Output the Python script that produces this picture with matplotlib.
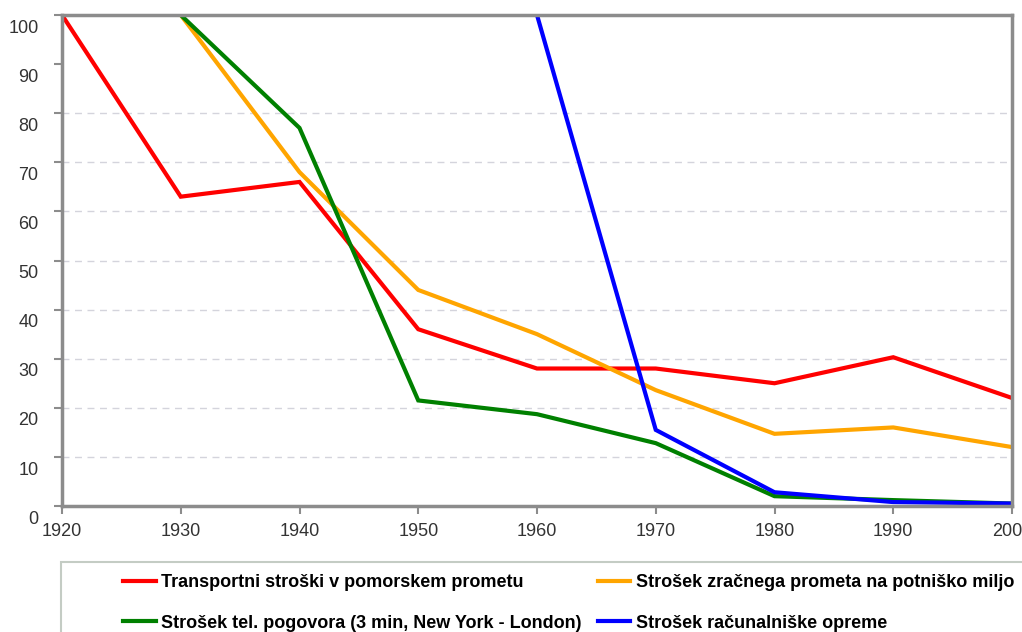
import matplotlib.pyplot as plt
from matplotlib.patches import Rectangle
from matplotlib.transforms import ScaledTranslation

plt.rcParams['font.family'] = ['Liberation Sans', 'DejaVu Sans']

years = [1920, 1930, 1940, 1950, 1960, 1970, 1980, 1990, 2000]
pomorski = [100, 63, 66, 36, 28, 28, 25, 30.3, 22]
letalski_years = [1930, 1940, 1950, 1960, 1970, 1980, 1990, 2000]
letalski = [100, 68, 44, 35, 23.6, 14.7, 16, 12]
telefon_years = [1930, 1940, 1950, 1960, 1970, 1980, 1990, 2000]
telefon = [100, 77, 21.5, 18.7, 12.8, 2, 1.2, 0.5]
racunalniki_years = [1960, 1970, 1980, 1990, 2000]
racunalniki = [100, 15.5, 2.8, 0.8, 0.5]

labels = ['Transportni stroški v pomorskem prometu',
          'Strošek tel. pogovora (3 min, New York - London)',
          'Strošek zračnega prometa na potniško miljo',
          'Strošek računalniške opreme']

fig = plt.figure(figsize=(10.22, 6.32), dpi=100)
fig.patch.set_facecolor('white')
ax = fig.add_axes([62 / 1022, 1 - 506 / 632, 950 / 1022, 491 / 632])

l1, = ax.plot(years, pomorski, color='#ff0000', lw=3, solid_joinstyle='miter')
l3, = ax.plot(letalski_years, letalski, color='#ffa500', lw=3, solid_joinstyle='miter')
l2, = ax.plot(telefon_years, telefon, color='#008000', lw=3, solid_joinstyle='miter')
l4, = ax.plot(racunalniki_years, racunalniki, color='#0000ff', lw=3, solid_joinstyle='miter')

ax.set_xlim(1920, 2000)
ax.set_ylim(0, 100)
ax.set_xticks(years)
ax.set_yticks(range(0, 101, 10))

# dashed guides only for the inner values
for v in range(10, 90, 10):
    ax.axhline(v, color='#d4d4dc', lw=1, ls=(0, (5, 4)), zorder=0)

for side in ['left', 'bottom', 'top', 'right']:
    ax.spines[side].set_color('#8c8c8c')
    ax.spines[side].set_linewidth(2.5)
ax.tick_params(axis='both', color='#8c8c8c', width=1.5, length=6,
               labelsize=13, labelcolor='#333333')
ax.tick_params(axis='y', pad=11)
ax.tick_params(axis='x', pad=6)

# y labels sit a little below their ticks
shift = ScaledTranslation(0, -8 / 72, fig.dpi_scale_trans)
for lab in ax.get_yticklabels():
    lab.set_transform(lab.get_transform() + shift)

# legend box running off the bottom-right edge
fig.add_artist(Rectangle((61 / 1022, -0.05), 1.0, 1 - 562 / 632 + 0.05,
                         transform=fig.transFigure, facecolor='white',
                         edgecolor='#c4ccc4', lw=1.5))

fig.legend([l1, l2, l3, l4], labels, ncol=2, loc='upper left',
           bbox_to_anchor=(114 / 1022, 1 - 565 / 632), frameon=False,
           borderpad=0, handlelength=1.8, handletextpad=0.3,
           columnspacing=0.9, labelspacing=1.3,
           prop={'weight': 'bold', 'size': 13})

fig.savefig('out.png', dpi=100)
